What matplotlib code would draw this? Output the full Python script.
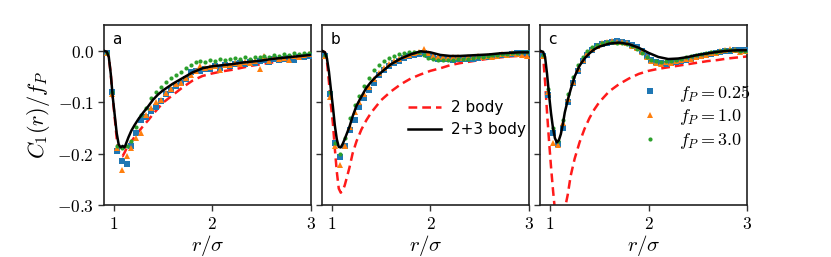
"""Recreates a three-panel plot of C1(r)/fP vs r/sigma."""
import matplotlib
matplotlib.use('Agg')
import matplotlib.pyplot as plt
from matplotlib.ticker import FuncFormatter

plt.rcParams['mathtext.fontset'] = 'cm'

# r grid for the theory curves
R_LINE = [0.90, 0.93, 0.95, 0.97, 0.99, 1.01, 1.03, 1.05, 1.07, 1.09, 1.11, 1.13,
          1.15, 1.18, 1.21, 1.25, 1.30, 1.35, 1.40, 1.45, 1.50, 1.60, 1.70, 1.80,
          1.90, 2.00, 2.10, 2.20, 2.30, 2.40, 2.50, 2.60, 2.70, 2.80, 2.90, 3.00]

# 2 body (red dashed)
TWO_BODY_A = [0.0, -0.002, -0.012, -0.045, -0.092, -0.130, -0.170, -0.195, -0.204,
              -0.205, -0.198, -0.190, -0.184, -0.176, -0.168, -0.158, -0.146, -0.135,
              -0.123, -0.112, -0.101, -0.086, -0.071, -0.058, -0.049, -0.044, -0.040,
              -0.037, -0.033, -0.029, -0.026, -0.023, -0.020, -0.017, -0.014, -0.011]
TWO_BODY_B = [0.0, -0.003, -0.020, -0.060, -0.105, -0.140, -0.190, -0.235, -0.268,
              -0.276, -0.272, -0.262, -0.248, -0.226, -0.200, -0.176, -0.153, -0.135,
              -0.120, -0.108, -0.096, -0.079, -0.065, -0.054, -0.046, -0.039, -0.034,
              -0.028, -0.024, -0.021, -0.018, -0.015, -0.013, -0.011, -0.010, -0.009]
TWO_BODY_C = [0.0, -0.010, -0.060, -0.120, -0.175, -0.225, -0.270, -0.310, -0.335,
              -0.345, -0.340, -0.325, -0.308, -0.280, -0.243, -0.210, -0.178, -0.152,
              -0.131, -0.114, -0.100, -0.079, -0.065, -0.054, -0.045, -0.039, -0.035,
              -0.032, -0.029, -0.026, -0.023, -0.020, -0.018, -0.015, -0.013, -0.011]

# 2+3 body (black)
THREE_BODY_A = [0.0, -0.002, -0.012, -0.045, -0.090, -0.125, -0.160, -0.182, -0.188,
                -0.185, -0.188, -0.178, -0.168, -0.155, -0.145, -0.133, -0.120, -0.108,
                -0.095, -0.085, -0.077, -0.064, -0.053, -0.042, -0.034, -0.030, -0.028,
                -0.026, -0.023, -0.021, -0.019, -0.016, -0.014, -0.012, -0.010, -0.008]
THREE_BODY_B = [0.0, -0.003, -0.015, -0.040, -0.075, -0.108, -0.145, -0.172, -0.187,
                -0.188, -0.181, -0.172, -0.162, -0.147, -0.128, -0.107, -0.089, -0.072,
                -0.060, -0.050, -0.042, -0.026, -0.015, -0.007, -0.001, -0.003, -0.008,
                -0.010, -0.010, -0.009, -0.008, -0.007, -0.005, -0.004, -0.003, -0.003]
THREE_BODY_C = [0.0, -0.002, -0.012, -0.045, -0.085, -0.121, -0.150, -0.170, -0.178,
                -0.174, -0.162, -0.143, -0.120, -0.096, -0.075, -0.050, -0.029, -0.015,
                -0.005, 0.003, 0.008, 0.014, 0.016, 0.013, 0.006, -0.004, -0.012,
                -0.016, -0.015, -0.012, -0.008, -0.005, -0.002, 0.000, 0.001, 0.001]

# r grid of the simulation points
R_PTS = [0.93, 0.98, 1.03, 1.08, 1.13, 1.18, 1.23, 1.28, 1.33, 1.38, 1.43, 1.48,
         1.53, 1.58, 1.63, 1.68, 1.73, 1.78, 1.83, 1.88, 1.93, 1.98, 2.03, 2.08,
         2.13, 2.18, 2.23, 2.28, 2.33, 2.38, 2.43, 2.48, 2.53, 2.58, 2.63, 2.68,
         2.73, 2.78, 2.83, 2.88, 2.93, 2.98]

FP_LABELS = ['$f_P = 0.25$', '$f_P = 1.0$', '$f_P = 3.0$']

SIM_A_025 = [-0.005, -0.080, -0.195, -0.215, -0.220, -0.185, -0.160, -0.135, -0.128,
             -0.118, -0.110, -0.098, -0.085, -0.076, -0.068, -0.062, -0.055, -0.042,
             -0.040, -0.040, -0.036, -0.035, -0.030, -0.033, -0.028, -0.030, -0.025,
             -0.024, -0.025, -0.022, -0.023, -0.020, -0.018, -0.022, -0.015, -0.018,
             -0.016, -0.014, -0.018, -0.012, -0.012, -0.010]
SIM_A_10 = [-0.005, -0.085, -0.190, -0.232, -0.205, -0.190, -0.170, -0.160, -0.125,
            -0.112, -0.100, -0.095, -0.082, -0.075, -0.065, -0.062, -0.052, -0.048,
            -0.040, -0.030, -0.034, -0.032, -0.030, -0.038, -0.027, -0.028, -0.024,
            -0.026, -0.022, -0.023, -0.020, -0.036, -0.010, -0.020, -0.012, -0.016,
            -0.014, -0.018, -0.010, -0.012, -0.008, -0.006]
SIM_A_30 = [-0.005, -0.080, -0.185, -0.190, -0.185, -0.175, -0.148, -0.125, -0.112,
            -0.092, -0.080, -0.070, -0.060, -0.053, -0.047, -0.042, -0.033, -0.028,
            -0.022, -0.020, -0.022, -0.018, -0.020, -0.016, -0.018, -0.016, -0.014,
            -0.016, -0.013, -0.015, -0.012, -0.013, -0.010, -0.012, -0.009, -0.010,
            -0.006, -0.008, -0.005, -0.006, -0.004, -0.004]

SIM_B_025 = [-0.010, -0.085, -0.180, -0.207, -0.185, -0.155, -0.135, -0.110, -0.092,
             -0.076, -0.062, -0.048, -0.038, -0.030, -0.024, -0.019, -0.014, -0.011,
             -0.008, -0.006, -0.004, -0.008, -0.013, -0.015, -0.016, -0.016, -0.017,
             -0.016, -0.016, -0.015, -0.016, -0.014, -0.013, -0.013, -0.011, -0.010,
             -0.009, -0.008, -0.006, -0.005, -0.004, -0.004]
SIM_B_10 = [-0.010, -0.090, -0.185, -0.222, -0.185, -0.148, -0.120, -0.100, -0.085,
            -0.070, -0.055, -0.044, -0.034, -0.026, -0.020, -0.016, -0.011, -0.008,
            -0.005, -0.002, 0.003, -0.005, -0.011, -0.013, -0.012, -0.014, -0.012,
            -0.013, -0.014, -0.012, -0.013, -0.011, -0.012, -0.010, -0.012, -0.010,
            -0.006, -0.008, -0.004, -0.006, -0.008, -0.010]
SIM_B_30 = [-0.008, -0.080, -0.180, -0.200, -0.170, -0.130, -0.105, -0.088, -0.068,
            -0.052, -0.038, -0.027, -0.019, -0.014, -0.010, -0.007, -0.004, -0.003,
            -0.002, -0.003, -0.008, -0.014, -0.016, -0.018, -0.018, -0.017, -0.018,
            -0.016, -0.016, -0.015, -0.014, -0.012, -0.012, -0.010, -0.009, -0.008,
            -0.007, -0.006, -0.005, -0.004, -0.003, -0.003]

SIM_C_025 = [-0.010, -0.086, -0.160, -0.182, -0.150, -0.100, -0.063, -0.040, -0.020,
             -0.008, 0.002, 0.010, 0.014, 0.016, 0.018, 0.020, 0.018, 0.016, 0.012,
             0.008, 0.000, -0.010, -0.018, -0.022, -0.024, -0.025, -0.024, -0.022,
             -0.020, -0.018, -0.015, -0.013, -0.011, -0.008, -0.006, -0.004, -0.002,
             -0.001, 0.000, 0.002, 0.001, 0.001]
SIM_C_10 = [-0.010, -0.080, -0.180, -0.183, -0.141, -0.094, -0.060, -0.035, -0.018,
            -0.005, 0.004, 0.010, 0.015, 0.018, 0.019, 0.018, 0.017, 0.015, 0.010,
            0.005, -0.003, -0.012, -0.020, -0.023, -0.026, -0.022, -0.024, -0.020,
            -0.018, -0.015, -0.016, -0.012, -0.010, -0.008, -0.004, -0.005, 0.000,
            0.002, 0.003, 0.002, -0.002, 0.000]
SIM_C_30 = [-0.008, -0.075, -0.150, -0.175, -0.135, -0.085, -0.050, -0.028, -0.012,
            0.000, 0.008, 0.012, 0.015, 0.017, 0.017, 0.016, 0.015, 0.013, 0.010,
            0.004, -0.004, -0.012, -0.018, -0.020, -0.021, -0.020, -0.019, -0.017,
            -0.015, -0.013, -0.011, -0.009, -0.007, -0.005, -0.003, -0.002, 0.000,
            0.001, 0.001, 0.001, 0.000, 0.000]

PANEL_LABELS = ['a', 'b', 'c']


def math_fmt(x, pos):
    """Tick labels in computer modern"""
    if abs(x - round(x)) < 1e-9 and abs(x) >= 1:
        return '$%d$' % round(x)
    return '$%.1f$' % x


def draw_panel(ax, two_body, three_body, sims, label):
    ax.plot(R_LINE, two_body, '--', color='#ff1a1a', lw=1.8, dashes=(3.5, 2),
            label='2 body', zorder=2)
    ax.plot(R_LINE, three_body, '-', color='black', lw=1.8, label='2+3 body', zorder=4)
    markers = [('s', '#1f77b4', 3.8), ('^', '#ff7f0e', 4.2), ('o', '#2ca02c', 3.0)]
    for vals, (m, c, ms), lab in zip(sims, markers, FP_LABELS):
        ax.plot(R_PTS, vals, ls='none', marker=m, color=c, ms=ms, mew=0,
                label=lab, zorder=3)
    ax.set_xlim(0.9, 3.0)
    ax.set_ylim(-0.3, 0.05)
    ax.set_xticks([1, 2, 3])
    ax.set_yticks([-0.3, -0.2, -0.1, 0.0])
    ax.xaxis.set_major_formatter(FuncFormatter(math_fmt))
    ax.yaxis.set_major_formatter(FuncFormatter(math_fmt))
    ax.tick_params(labelsize=12.5, length=4, width=1, color='#333333', pad=3)
    for sp in ax.spines.values():
        sp.set_linewidth(1.2)
        sp.set_color('#222222')
    ax.set_xlabel(r'$r/\sigma$', fontsize=15, labelpad=0)
    ax.text(0.04, 0.96, label, transform=ax.transAxes, fontsize=11,
            ha='left', va='top')


fig = plt.figure(figsize=(8.31, 2.57), dpi=100)
lefts = [0.125, 0.3875, 0.65]
axes = [fig.add_axes([l, 0.2023, 0.249, 0.70]) for l in lefts]

draw_panel(axes[0], TWO_BODY_A, THREE_BODY_A, [SIM_A_025, SIM_A_10, SIM_A_30], 'a')
draw_panel(axes[1], TWO_BODY_B, THREE_BODY_B, [SIM_B_025, SIM_B_10, SIM_B_30], 'b')
draw_panel(axes[2], TWO_BODY_C, THREE_BODY_C, [SIM_C_025, SIM_C_10, SIM_C_30], 'c')

axes[0].set_ylabel(r'$C_1(r)/f_P$', fontsize=16, labelpad=4)
axes[1].tick_params(labelleft=False)
axes[2].tick_params(labelleft=False)

# Legends: lines in panel b, points in panel c
h, l = axes[1].get_legend_handles_labels()
axes[1].legend(h[:2], l[:2], loc='center left', bbox_to_anchor=(0.385, 0.48),
               frameon=False, fontsize=11, handlelength=2.2, handletextpad=0.65,
               labelspacing=0.45, borderaxespad=0)
h, l = axes[2].get_legend_handles_labels()
axes[2].legend(h[2:], l[2:], loc='center left', bbox_to_anchor=(0.41, 0.49),
               frameon=False, fontsize=13, handlelength=2.0, handletextpad=0.6,
               labelspacing=0.2, borderaxespad=0)

plt.savefig('out.png', dpi=100)
plt.close()
